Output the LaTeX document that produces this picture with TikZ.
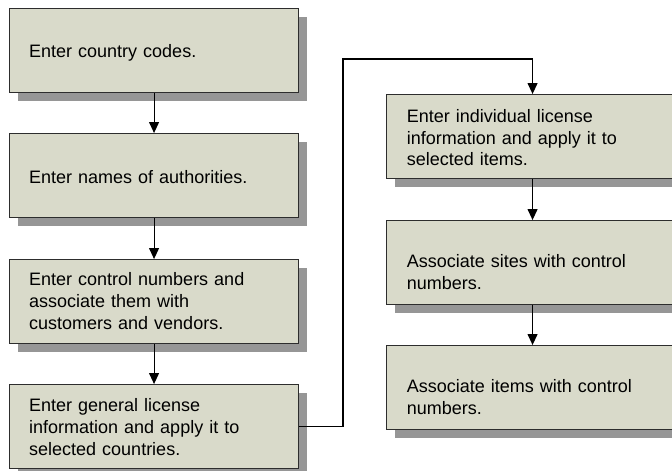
\documentclass[tikz,border=0pt]{standalone}
\usepackage{fontspec}
\setmainfont{Liberation Sans}
\usetikzlibrary{arrows.meta,shadows}
\definecolor{boxfill}{RGB}{217,218,202}
\definecolor{boxline}{RGB}{45,45,45}
\definecolor{shadowgray}{RGB}{150,150,150}
\tikzset{
  stepbox/.style={draw=boxline, line width=1.1pt, fill=boxfill, rectangle, anchor=north west,
    inner sep=0pt, minimum height=84pt,
    drop shadow={shadow xshift=8pt, shadow yshift=-8pt, fill=shadowgray, opacity=1}},
  leftbox/.style={stepbox, minimum width=289pt},
  rightbox/.style={stepbox, minimum width=292pt},
  txt/.style={anchor=base west, inner sep=0pt, align=left, text width=270pt,
    font=\fontsize{18}{21.7}\selectfont},
  conn/.style={draw=black, line width=1.1pt, -{Triangle[length=11pt,width=10pt]}},
}
\begin{document}
\begin{tikzpicture}[x=1pt,y=-1pt]
\useasboundingbox (0,0) rectangle (672,471);
\clip (0,0) rectangle (672,471);
% left column
\node[leftbox] (b1) at (9,8) {};
\node[leftbox] (b2) at (9,133) {};
\node[leftbox] (b3) at (9,259) {};
\node[leftbox] (b4) at (9,384) {};
% right column
\node[rightbox] (b5) at (386,94) {};
\node[rightbox] (b6) at (386,220) {};
\node[rightbox] (b7) at (386,345) {};
% texts
\node[txt] (t1) at (29,57) {Enter country codes.};
\node[txt] (t2) at (29,183) {Enter names of authorities.};
\node[txt] (t3) at (29,285.7) {Enter control numbers and\\associate them with\\customers and vendors.};
\node[txt] (t4) at (29,411.7) {Enter general license\\information and apply it to\\selected countries.};
\node[txt] (t5) at (406.7,122.5) {Enter individual license\\information and apply it to\\selected items.};
\node[txt] (t6) at (406.7,267.3) {Associate sites with control\\numbers.};
\node[txt] (t7) at (406.7,392.3) {Associate items with control\\numbers.};
% connectors
\coordinate (c1) at (343,59);
\draw[conn] (b1.south) -- (b2.north);
\draw[conn] (b2.south) -- (b3.north);
\draw[conn] (b3.south) -- (b4.north);
\draw[conn] (b4.east) -| (c1) -| (b5.north);
\draw[conn] (b5.south) -- (b6.north);
\draw[conn] (b6.south) -- (b7.north);
\end{tikzpicture}
\end{document}
